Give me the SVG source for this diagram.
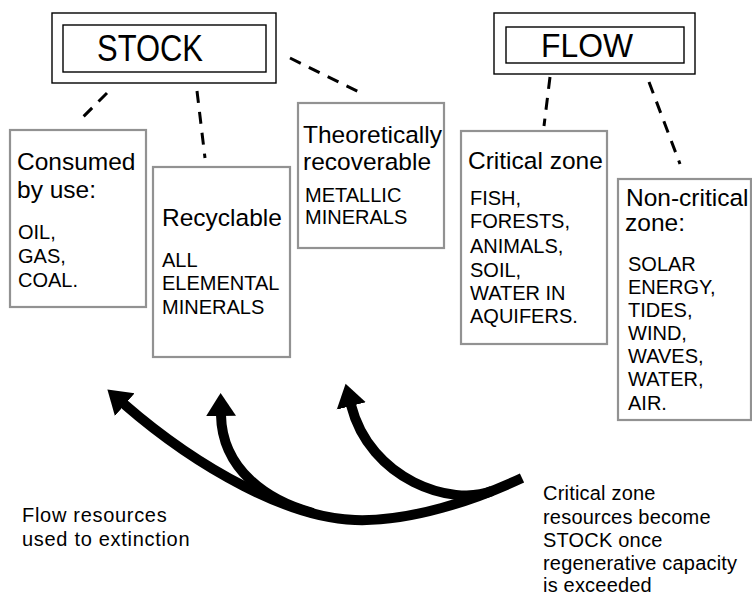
<svg xmlns="http://www.w3.org/2000/svg" width="752" height="595" viewBox="0 0 752 595">
<style>
text{font-family:"Liberation Sans",Arial,Helvetica,sans-serif;fill:#000}
.big{font-size:24.5px}
.sm{font-size:20px}
.note{font-size:20px}
.frame{fill:none;stroke:#000;stroke-width:1.4}
.box{fill:#fff;stroke:#929292;stroke-width:2.2}
.dash{fill:none;stroke:#000;stroke-width:3;stroke-dasharray:12 9}
.arrow{fill:none;stroke:#000;stroke-width:10}
</style>
<defs>
<marker id="head" markerUnits="userSpaceOnUse" viewBox="-1 -16 24 32" markerWidth="24" markerHeight="32" refX="0" refY="0" orient="auto">
<path d="M-1,-15 L22,0 L-1,15 Z" fill="#000"/>
</marker>
</defs>
<rect width="752" height="595" fill="#fff"/>

<g id="stock">
<rect class="frame" x="52" y="13" width="224" height="70"/>
<rect class="frame" x="63" y="25" width="203" height="47"/>
<text x="97" y="61" font-size="37" textLength="106" lengthAdjust="spacingAndGlyphs">STOCK</text>
</g>
<g id="flow">
<rect class="frame" x="494" y="13" width="201" height="61"/>
<rect class="frame" x="506" y="27" width="178" height="36"/>
<text x="541" y="57" font-size="33" textLength="92" lengthAdjust="spacingAndGlyphs">FLOW</text>
</g>

<g id="connectors">
<path class="dash" d="M107,93 L80,120"/>
<path class="dash" d="M197,91 L205,158"/>
<path class="dash" d="M290,58 L363,94"/>
<path class="dash" d="M550,77 L544,126"/>
<path class="dash" d="M649,82 L680,164"/>
<path class="arrow" d="M522,478 C475,500 410,522 355,520 C290,518 200,470 124,404" marker-end="url(#head)"/>
<path class="arrow" d="M313,513 C268,501 222,470 221,415" marker-end="url(#head)"/>
<path class="arrow" d="M492,491 C452,507 370,480 351,405" marker-end="url(#head)"/>
</g>

<g id="consumed">
<rect class="box" x="10" y="130" width="136" height="177"/>
<text class="big" x="17" y="170">Consumed</text>
<text class="big" x="17" y="198">by use:</text>
<text class="sm" x="18" y="239">OIL,</text>
<text class="sm" x="18" y="263">GAS,</text>
<text class="sm" x="18" y="287">COAL.</text>
</g>
<g id="recyclable">
<rect class="box" x="153" y="167" width="137" height="190"/>
<text class="big" x="162" y="226">Recyclable</text>
<text class="sm" x="162" y="267">ALL</text>
<text class="sm" x="162" y="290">ELEMENTAL</text>
<text class="sm" x="162" y="314">MINERALS</text>
</g>
<g id="recoverable">
<rect class="box" x="298" y="103" width="146" height="145"/>
<text class="big" x="303" y="143">Theoretically</text>
<text class="big" x="303" y="170">recoverable</text>
<text class="sm" x="305" y="202">METALLIC</text>
<text class="sm" x="305" y="224">MINERALS</text>
</g>
<g id="critical">
<rect class="box" x="461" y="131" width="146" height="213"/>
<text class="big" x="468" y="169">Critical zone</text>
<text class="sm" x="470" y="205">FISH,</text>
<text class="sm" x="470" y="228">FORESTS,</text>
<text class="sm" x="470" y="253">ANIMALS,</text>
<text class="sm" x="470" y="277">SOIL,</text>
<text class="sm" x="470" y="300">WATER IN</text>
<text class="sm" x="470" y="323">AQUIFERS.</text>
</g>
<g id="noncritical">
<rect class="box" x="618" y="179" width="133" height="241"/>
<text class="big" x="626" y="206">Non-critical</text>
<text class="big" x="625" y="231">zone:</text>
<text class="sm" x="628" y="271">SOLAR</text>
<text class="sm" x="628" y="294">ENERGY,</text>
<text class="sm" x="628" y="317">TIDES,</text>
<text class="sm" x="628" y="340">WIND,</text>
<text class="sm" x="628" y="363">WAVES,</text>
<text class="sm" x="628" y="386">WATER,</text>
<text class="sm" x="628" y="410">AIR.</text>
</g>

<g id="note-extinction">
<text class="note" x="22" y="522" letter-spacing="0.7">Flow resources</text>
<text class="note" x="22" y="546" letter-spacing="0.7">used to extinction</text>
</g>
<g id="note-critical">
<text class="note" x="543" y="500" letter-spacing="0.2">Critical zone</text>
<text class="note" x="543" y="524" letter-spacing="0.2">resources become</text>
<text class="note" x="543" y="547" letter-spacing="0.2">STOCK once</text>
<text class="note" x="543" y="570" letter-spacing="0.2">regenerative capacity</text>
<text class="note" x="543" y="592" letter-spacing="0.2">is exceeded</text>
</g>
</svg>
